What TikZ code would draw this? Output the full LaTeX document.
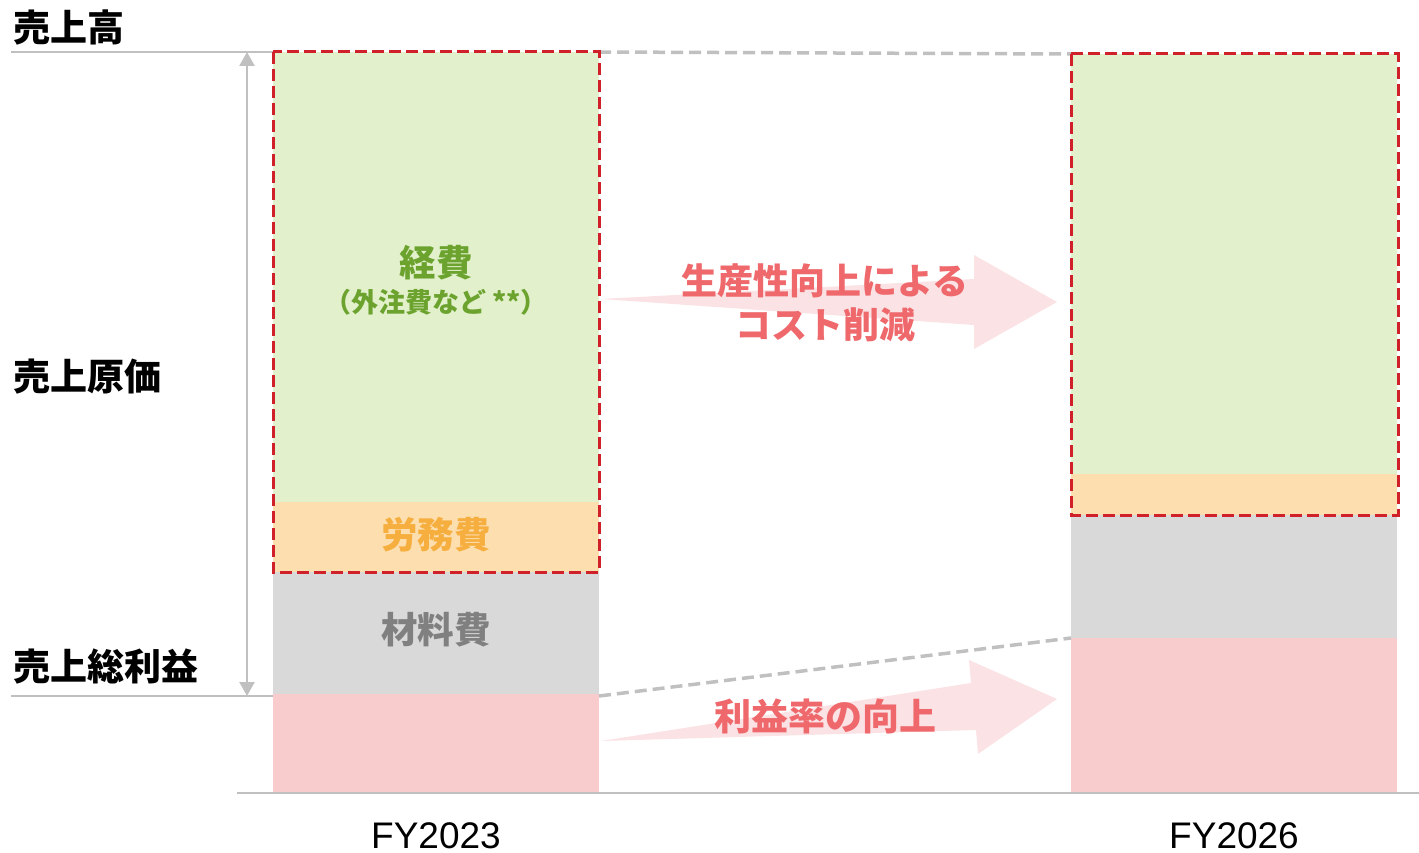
\documentclass[tikz,border=0pt]{standalone}
\usepackage{fontspec}
\setmainfont{Noto Sans CJK JP}
\newfontfamily\latinfont{Liberation Sans}
\usetikzlibrary{arrows.meta}
\definecolor{cgreen}{HTML}{E2F0CB}
\definecolor{corange}{HTML}{FDDEAF}
\definecolor{cgray}{HTML}{D9D9D9}
\definecolor{cpink}{HTML}{F8CBCC}
\definecolor{cred}{HTML}{D0202A}
\definecolor{cline}{HTML}{C0C0C0}
\definecolor{carrow}{HTML}{FBE2E4}
\definecolor{carrowtxt}{HTML}{EE686C}
\definecolor{tgreen}{HTML}{6BA32E}
\definecolor{torange}{HTML}{F6AE3E}
\definecolor{tgray}{HTML}{808080}
\begin{document}
\begin{tikzpicture}[x=1pt,y=-1pt,
  redbox/.style={draw=cred,line width=3pt,dash pattern=on 12pt off 5pt},
  guide/.style={draw=cline,line width=2pt},
  gdash/.style={draw=cline,line width=3.5pt,dash pattern=on 12pt off 6pt},
  side/.style={font=\bfseries\fontsize{37}{40}\selectfont,anchor=west,inner sep=0pt},
  seg/.style={font=\bfseries\fontsize{36.5}{40}\selectfont,inner sep=0pt},
  arrtxt/.style={font=\bfseries\fontsize{36}{44}\selectfont,text=carrowtxt,align=center,inner sep=0pt},
  fy/.style={font=\latinfont\fontsize{37}{40}\selectfont,inner sep=0pt,anchor=base,text depth=0pt}]
\useasboundingbox (0,0) rectangle (1419,853);
% left bar
\fill[cgreen] (273,52) rectangle (599,502);
\fill[corange] (273,502) rectangle (599,572);
\fill[cgray] (273,572) rectangle (599,694);
\fill[cpink] (273,694) rectangle (599,793);
% right bar
\fill[cgreen] (1071,54) rectangle (1397,474);
\fill[corange] (1071,474) rectangle (1397,515);
\fill[cgray] (1071,515) rectangle (1397,638);
\fill[cpink] (1071,638) rectangle (1397,793);
% baseline
\draw[cline,line width=1.5pt] (237,793) -- (1419,793);
% coordinates
\coordinate (topL) at (11,52);
\coordinate (topB) at (273,52);
\coordinate (botL) at (11,696);
\coordinate (botB) at (273,696);
\coordinate (vt) at (247,52);
\coordinate (vb) at (247,696);
\coordinate (d1a) at (599,52);
\coordinate (d1b) at (1071,54);
\coordinate (d2a) at (599,696);
\coordinate (d2b) at (1071,638);
\draw[guide] (topL) -- (topB);
\draw[guide] (botL) -- (botB);
\draw[cline,line width=2.5pt,{Triangle[length=14pt,width=15pt]}-{Triangle[length=14pt,width=15pt]}] (vt) -- (vb);
\draw[gdash] (d1a) -- (d1b);
\draw[gdash] (d2a) -- (d2b);
% arrows
\fill[carrow] (601,299) -- (974,279) -- (974,255) -- (1057,302) -- (974,349) -- (974,325) -- cycle;
\fill[carrow] (601,741) -- (971,683) -- (969,660) -- (1057,699) -- (978,754) -- (976,730) -- cycle;
% red boxes
\draw[redbox] (273,52) rectangle (599,572);
\draw[redbox] (1071,54) rectangle (1398,515);
% side labels
\node[side] (sales) at (13,27) {売上高};
\node[side] (cogs) at (13,377) {売上原価};
\node[side] (gp) at (13,667) {売上総利益};
% segment labels
\node[seg,text=tgreen] (keihi) at (436,263) {経費};
\node[font=\bfseries\fontsize{27}{30}\selectfont,text=tgreen,inner sep=0pt] (gaichu) at (436,302) {（外注費など **）};
\node[seg,text=torange] (romu) at (436,535) {労務費};
\node[seg,text=tgray] (zairyo) at (436,630) {材料費};
% arrow text
\node[arrtxt] (cost) at (825,303) {生産性向上による\\コスト削減};
\node[arrtxt,font=\bfseries\fontsize{37}{44}\selectfont] (margin) at (825,716) {利益率の向上};
% years
\node[fy] (fy1) at (436,848) {FY2023};
\node[fy] (fy2) at (1234,848) {FY2026};
\end{tikzpicture}
\end{document}
